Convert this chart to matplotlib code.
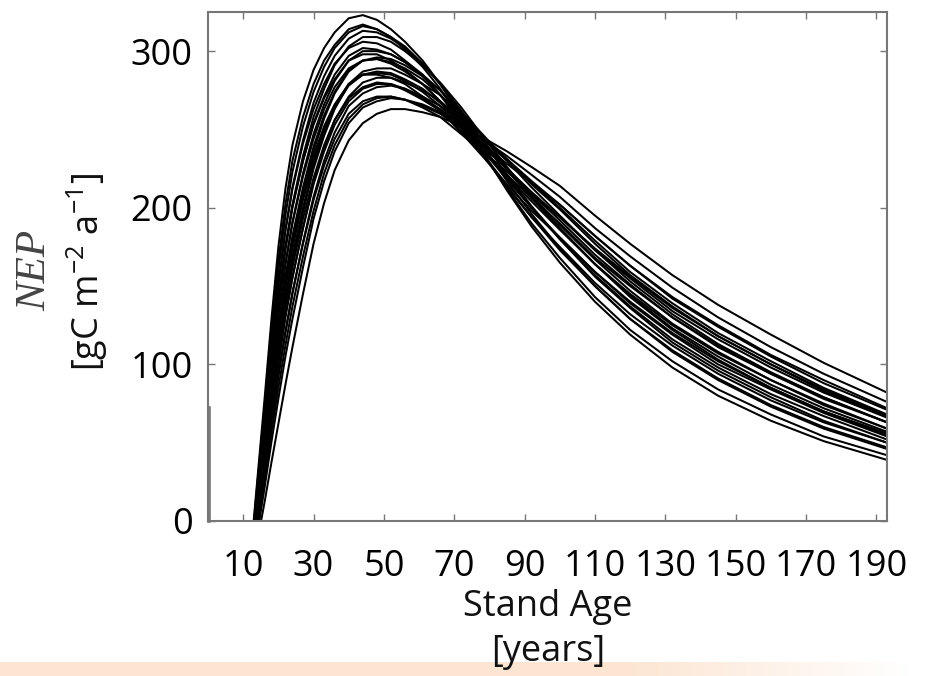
import numpy as np
import matplotlib
matplotlib.use("Agg")
import matplotlib.pyplot as plt

# ---------------- data ----------------
ages = [12, 14, 16, 18, 20, 22, 24, 27, 30, 33, 36, 40, 44, 48, 52, 56, 61, 66, 72, 78,
        85, 92, 100, 110, 120, 132, 145, 160, 175, 193]

nep_c01 = [-25, 26, 76, 128, 175, 212, 240, 268, 288, 302, 312, 321, 323, 320, 314, 306, 294, 279, 258, 236, 211, 188, 165, 140, 119, 98, 80, 64, 51, 39]
nep_c02 = [-26, 23, 71, 121, 166, 202, 230, 258, 279, 294, 304, 314, 317, 314, 309, 301, 290, 276, 256, 235, 212, 190, 168, 143, 122, 102, 84, 68, 54, 42]
nep_c03 = [-28, 20, 67, 115, 160, 195, 223, 252, 274, 290, 302, 312, 316, 314, 309, 303, 292, 279, 260, 240, 217, 196, 174, 150, 129, 108, 90, 73, 59, 46]
nep_c04 = [-28, 18, 62, 109, 151, 185, 212, 241, 263, 279, 292, 302, 306, 305, 301, 294, 285, 272, 254, 235, 214, 194, 173, 150, 129, 109, 91, 74, 60, 47]
nep_c05 = [-29, 17, 62, 108, 151, 186, 213, 243, 267, 284, 297, 308, 313, 312, 308, 302, 292, 279, 262, 243, 221, 201, 180, 156, 136, 114, 96, 79, 64, 50]
nep_c06 = [-28, 15, 57, 101, 142, 175, 201, 230, 253, 270, 282, 294, 298, 298, 294, 288, 279, 268, 251, 234, 213, 194, 175, 152, 132, 112, 94, 77, 63, 50]
nep_c07 = [-30, 14, 56, 100, 140, 173, 200, 230, 254, 271, 285, 297, 302, 301, 298, 293, 284, 272, 256, 239, 219, 200, 180, 157, 137, 116, 98, 81, 67, 52]
nep_c08 = [-31, 13, 56, 100, 141, 175, 202, 233, 258, 276, 291, 303, 309, 309, 306, 300, 291, 280, 264, 246, 226, 207, 187, 164, 143, 122, 103, 85, 70, 55]
nep_c09 = [-30, 11, 51, 93, 132, 164, 190, 220, 244, 263, 277, 289, 294, 295, 292, 287, 279, 268, 253, 237, 218, 200, 181, 159, 139, 119, 100, 84, 69, 54]
nep_c10 = [-31, 11, 51, 93, 132, 164, 191, 222, 247, 266, 281, 294, 300, 300, 298, 293, 285, 275, 259, 243, 224, 206, 187, 164, 144, 123, 105, 87, 72, 57]
nep_c11 = [-31, 9, 47, 86, 123, 154, 179, 209, 233, 252, 266, 279, 285, 285, 283, 279, 271, 262, 248, 233, 215, 198, 181, 159, 140, 120, 102, 85, 70, 56]
nep_c12 = [-32, 8, 47, 87, 124, 156, 182, 213, 239, 259, 274, 288, 294, 295, 293, 289, 282, 272, 258, 243, 225, 208, 189, 167, 147, 126, 108, 90, 75, 59]
nep_c13 = [-32, 7, 44, 82, 118, 149, 174, 205, 230, 250, 265, 279, 285, 286, 285, 281, 274, 265, 251, 237, 220, 204, 186, 164, 145, 125, 107, 90, 74, 59]
nep_c14 = [-34, 6, 43, 83, 119, 151, 177, 209, 236, 257, 273, 287, 294, 296, 295, 291, 284, 275, 261, 247, 230, 213, 195, 173, 153, 132, 113, 95, 79, 63]
nep_c15 = [-33, 5, 40, 78, 113, 143, 169, 200, 227, 248, 264, 278, 285, 287, 286, 282, 276, 267, 255, 241, 225, 209, 192, 170, 151, 130, 112, 94, 79, 63]
nep_c16 = [-33, 3, 38, 74, 107, 137, 162, 193, 219, 240, 256, 270, 277, 280, 279, 275, 269, 262, 249, 236, 221, 206, 190, 168, 150, 130, 111, 94, 78, 63]
nep_c17 = [-35, 2, 37, 74, 108, 138, 165, 197, 225, 246, 263, 279, 287, 289, 289, 285, 279, 272, 259, 246, 231, 215, 199, 177, 157, 137, 118, 100, 83, 67]
nep_c18 = [-34, 1, 34, 69, 102, 131, 156, 187, 215, 236, 253, 268, 276, 279, 279, 276, 270, 263, 252, 239, 225, 210, 194, 173, 155, 134, 116, 98, 82, 66]
nep_c19 = [-35, 0, 33, 68, 100, 130, 155, 187, 216, 238, 256, 271, 280, 283, 283, 280, 275, 268, 257, 244, 230, 216, 200, 179, 159, 139, 120, 102, 85, 68]
nep_c20 = [-35, -1, 30, 63, 94, 121, 146, 177, 205, 227, 244, 260, 268, 271, 271, 269, 264, 258, 247, 236, 223, 209, 194, 174, 156, 136, 118, 100, 84, 67]
nep_c21 = [-36, -3, 28, 61, 92, 120, 145, 178, 207, 230, 248, 265, 273, 277, 278, 276, 271, 265, 255, 244, 231, 217, 202, 182, 163, 142, 124, 105, 88, 71]
nep_c22 = [-37, -5, 24, 56, 85, 112, 137, 169, 198, 222, 240, 257, 266, 270, 271, 269, 265, 260, 251, 241, 228, 216, 202, 182, 163, 143, 125, 106, 90, 72]
nep_c23 = [-38, -8, 20, 50, 78, 105, 129, 162, 193, 217, 236, 254, 264, 268, 270, 269, 266, 261, 253, 244, 233, 221, 207, 187, 169, 149, 130, 111, 94, 76]
nep_c24 = [-40, -13, 11, 37, 62, 87, 111, 145, 177, 203, 224, 243, 254, 260, 263, 263, 261, 258, 252, 245, 236, 226, 214, 195, 177, 157, 138, 119, 101, 82]

curves = [nep_c01, nep_c02, nep_c03, nep_c04, nep_c05, nep_c06, nep_c07, nep_c08,
          nep_c09, nep_c10, nep_c11, nep_c12, nep_c13, nep_c14, nep_c15, nep_c16,
          nep_c17, nep_c18, nep_c19, nep_c20, nep_c21, nep_c22, nep_c23, nep_c24]

edge_x = [0.4, 0.4]
edge_y = [0, 72]

x_ticks = [10, 30, 50, 70, 90, 110, 130, 150, 170, 190]
y_ticks = [0, 100, 200, 300]

# ---------------- figure ----------------
W, H = 930, 676
fig = plt.figure(figsize=(W / 100, H / 100), dpi=100)
fig.patch.set_facecolor("white")

sans = ["Open Sans", "DejaVu Sans"]
plt.rcParams["mathtext.fontset"] = "custom"
plt.rcParams["mathtext.rm"] = "Open Sans"
plt.rcParams["mathtext.it"] = "Open Sans:italic"

# peach band at the bottom
band_ax = fig.add_axes([0, 0, 1, 14 / H])
band_ax.set_axis_off()
grad = np.ones((1, 256, 3))
peach = np.array([0.99, 0.90, 0.83])
xs = np.linspace(0, 1, 256)
fade = np.clip((xs - 0.68) / (0.98 - 0.68), 0, 1)
for k in range(3):
    grad[0, :, k] = peach[k] + (1 - peach[k]) * fade
band_ax.imshow(grad, aspect="auto", extent=[0, 1, 0, 1])
band_ax.set_xlim(0, 1)
band_ax.set_ylim(0, 1)

ax = fig.add_axes([208 / W, 1 - 521 / H, (887 - 208) / W, (521 - 12) / H])
for c in curves:
    n = min(len(ages), len(c))
    ax.plot(ages[:n], c[:n], color="black", lw=1.45, solid_joinstyle="round")
ax.plot(edge_x, edge_y, color="#777777", lw=2.6, clip_on=False)

ax.set_xlim(0, 193)
ax.set_ylim(0, 325)
ax.set_xticks(x_ticks)
ax.set_yticks(y_ticks)
ax.set_xticklabels([str(v) for v in x_ticks], family=sans, fontsize=26, color="black")
ax.set_yticklabels([str(v) for v in y_ticks], family=sans, fontsize=26, color="black")
ax.tick_params(axis="both", direction="in", length=5, width=1.0, color="#777777",
               top=True, right=True)
ax.tick_params(axis="x", pad=20)
ax.tick_params(axis="y", pad=11)
for sp in ax.spines.values():
    sp.set_color("#777777")
    sp.set_linewidth(1.5)

# axis labels
fig.text(548 / W, 1 - 607 / H, "Stand Age", family=sans, fontsize=26,
         ha="center", va="center", color="#111111")
fig.text(548 / W, 1 - 652 / H, "[years]", family=sans, fontsize=26,
         ha="center", va="center", color="#111111")
fig.text(35 / W, 1 - 270 / H, "NEP", family=["Liberation Serif", "DejaVu Serif"],
         style="italic", fontsize=31, rotation=90, ha="center", va="center",
         color="#444444")
fig.text(87 / W, 1 - 272 / H, r"[gC m$^{-2}$ a$^{-1}$]", family=sans, fontsize=26,
         rotation=90, ha="center", va="center", color="#111111")

fig.savefig("out.png", dpi=100, facecolor="white")
